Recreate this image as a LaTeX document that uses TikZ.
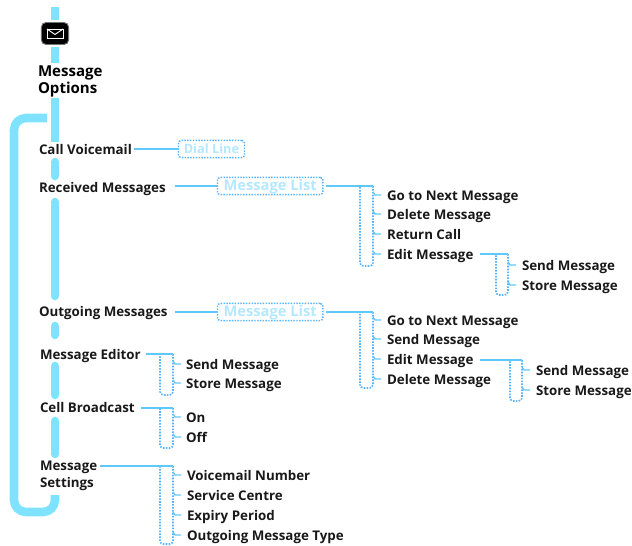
\documentclass[tikz,border=0pt]{standalone}
\usepackage{fontspec}
\setmainfont{Open Sans}
\definecolor{cy}{HTML}{7FE3FF}
\definecolor{cyb}{HTML}{5FC8FF}
\definecolor{cyd}{HTML}{58B4FF}
\definecolor{cyt}{HTML}{B4E8FF}
\tikzset{
 every node/.style={inner sep=0pt,outer sep=0pt},
 lbl/.style={anchor=base west,font=\fontsize{10}{10}\selectfont\bfseries,text=black!90},
 head/.style={anchor=base west,font=\fontsize{11.3}{10}\selectfont\bfseries},
 thick line/.style={line width=6.4pt,draw=cy,line cap=round},
 thin line/.style={line width=1.1pt,draw=cyb},
 brk/.style={line width=1.2pt,draw=cyd,rounded corners=2.5pt,densely dotted},
 hook/.style={line width=1pt,draw=cyb},
 ghost/.style={draw=cyd,densely dotted,line width=1.1pt,rounded corners=2pt,anchor=west,minimum height=12.8pt,text height=7.5pt,text depth=1.5pt,font=\bfseries,text=cyt}
}
\begin{document}
\begin{tikzpicture}[x=.75pt,y=-.75pt]
\useasboundingbox (0,0) rectangle (632,546);
% main trunk
\coordinate (t0) at (55,7);
\coordinate (t1) at (55,20);
\coordinate (t2) at (55,47);
\coordinate (t3) at (55,63);
\coordinate (t4) at (55,98);
\coordinate (t5) at (55,142);
\draw[thick line,line cap=butt] (t0)--(t1);
\draw[thick line,line cap=butt] (t2)--(t3);
\draw[thick line,line cap=butt] (t4)--(t5);
\coordinate (a1) at (55,162); \coordinate (a2) at (55,176);
\draw[thick line] (a1)--(a2);
\coordinate (b1) at (55,202); \coordinate (b2) at (55,296);
\draw[thick line] (b1)--(b2);
\coordinate (c1) at (55,326); \coordinate (c2) at (55,335);
\draw[thick line] (c1)--(c2);
\coordinate (d1) at (55,366); \coordinate (d2) at (55,395);
\draw[thick line] (d1)--(d2);
\coordinate (e1) at (55,421); \coordinate (e2) at (55,454);
\draw[thick line] (e1)--(e2);
% return loop
\coordinate (r0) at (47,118);
\coordinate (r1) at (14,118);
\coordinate (r2) at (14,512);
\coordinate (r3) at (55,512);
\coordinate (r4) at (55,495);
\draw[thick line,rounded corners=9pt,line cap=butt] (r0)--(r1)--(r2)--(r3)--(r4);
% icon
\node[draw=black!55,fill=black,line width=.7pt,rounded corners=3.5pt,minimum width=20.5pt,minimum height=16.5pt] (icon) at (55,33.5) {};
\draw[white,line width=.7pt,fill=black] (47,29) rectangle (63,38);
\draw[white,line width=.7pt] (47,29)--(55,34.5)--(63,29);
% texts
\node[head] at (38,76) {Message};
\node[head] at (38,93) {Options};
\node[lbl] (cv) at (39,154) {Call Voicemail};
\node[lbl] (rm) at (39,192) {Received Messages};
\node[lbl] (om) at (39,316) {Outgoing Messages};
\node[lbl] (me) at (40,359) {Message Editor};
\node[lbl] (cb) at (40,412) {Cell Broadcast};
\node[lbl] (ms) at (40,470) {Message};
\node[lbl] (ms2) at (40,487) {Settings};
% boxes
\node[ghost,minimum width=49.5pt,font=\fontsize{9.6}{10}\selectfont\bfseries] (bx1) at (178.5,149) {Dial Line};
\node[ghost,minimum width=79pt,font=\fontsize{11}{10}\selectfont\bfseries] (bx2) at (217.5,186) {Message List};
\node[ghost,minimum width=79pt,font=\fontsize{11}{10}\selectfont\bfseries] (bx3) at (217.5,312) {Message List};
\coordinate (cvx) at (134,149); \coordinate (rmx) at (175,186); \coordinate (omx) at (175,312);
\draw[thin line] (cvx)--(bx1);
\draw[thin line] (rmx)--(bx2);
\draw[thin line] (omx)--(bx3);
% brackets
\draw[brk] (373,186)--(373,266)--(360,266)--(360,186);
\draw[thin line] (bx2.east)++(3,0)--(373,186);
\foreach \y/\t in {195/Go to Next Message,214/Delete Message,234/Return Call,254/Edit Message}{
 \draw[hook] (373,\y-3)--(375,\y)--(381,\y);
 \node[lbl] at (387,\y+5) {\t};
}
\draw[brk] (373,312)--(373,388)--(360,388)--(360,312);
\draw[thin line] (bx3.east)++(3,0)--(373,312);
\foreach \y/\t in {320/Go to Next Message,339/Send Message,359/Edit Message,379/Delete Message}{
 \draw[hook] (373,\y-3)--(375,\y)--(381,\y);
 \node[lbl] at (387,\y+5) {\t};
}
% edit sub
\coordinate (ea) at (480,254); \coordinate (eb) at (508,254);
\draw[brk] (eb)--(508,295)--(496,295)--(496,254);
\draw[thin line] (ea)--(eb);
\foreach \y/\t in {265/Send Message,285/Store Message}{
 \draw[hook] (508,\y-3)--(510,\y)--(516,\y);
 \node[lbl] at (522,\y+5) {\t};
}
\coordinate (fa) at (480,360); \coordinate (fb) at (522,360);
\draw[brk] (fb)--(522,401)--(510,401)--(510,360);
\draw[thin line] (fa)--(fb);
\foreach \y/\t in {370/Send Message,390/Store Message}{
 \draw[hook] (522,\y-3)--(524,\y)--(530,\y);
 \node[lbl] at (536,\y+5) {\t};
}
% message editor
\coordinate (ga) at (146,354); \coordinate (gb) at (173,354);
\draw[brk] (gb)--(173,395)--(160,395)--(160,354);
\draw[thin line] (ga)--(gb);
\foreach \y/\t in {364/Send Message,383/Store Message}{
 \draw[hook] (173,\y-3)--(175,\y)--(181,\y);
 \node[lbl] at (186,\y+5) {\t};
}
% cell broadcast
\coordinate (ha) at (141,408); \coordinate (hb) at (173,408);
\draw[brk] (hb)--(173,448)--(160,448)--(160,408);
\draw[thin line] (ha)--(hb);
\foreach \y/\t in {417/On,437/Off}{
 \draw[hook] (173,\y-3)--(175,\y)--(181,\y);
 \node[lbl] at (186,\y+5) {\t};
}
% settings
\coordinate (ia) at (100,466); \coordinate (ib) at (173,466);
\draw[brk] (ib)--(173,544)--(160,544)--(160,466);
\draw[thin line] (ia)--(ib);
\foreach \y/\t in {475/Voicemail Number,495/Service Centre,515/Expiry Period,535/Outgoing Message Type}{
 \draw[hook] (173,\y-3)--(175,\y)--(181,\y);
 \node[lbl] at (187,\y+5) {\t};
}
\end{tikzpicture}
\end{document}
